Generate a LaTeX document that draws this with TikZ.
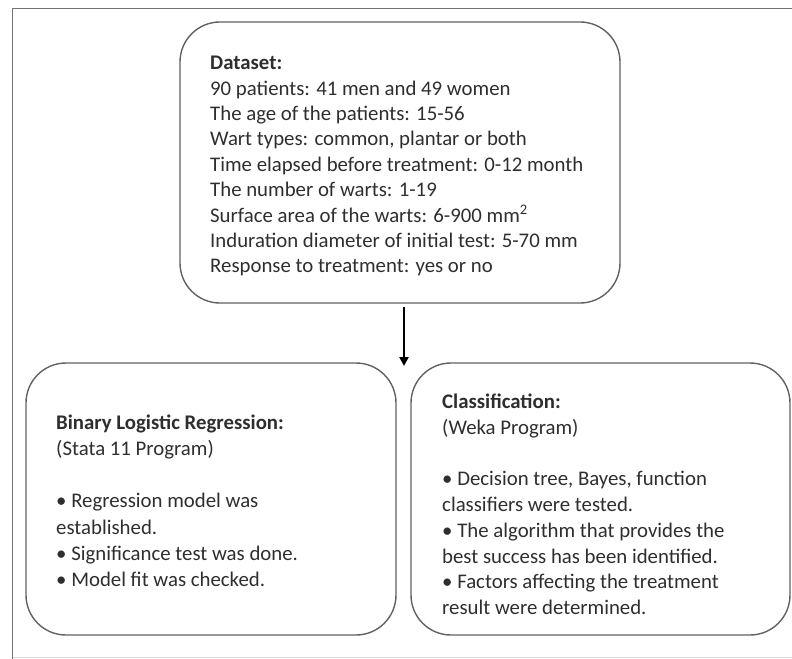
\documentclass[tikz,border=0pt]{standalone}
\usepackage{fontspec}
\setmainfont{Carlito}
\usetikzlibrary{arrows.meta}
\begin{document}
\begin{tikzpicture}[x=1bp,y=-1bp,
  box/.style={draw=black!62, line width=1.4bp, rounded corners=40bp, inner sep=0pt},
  txt/.style={anchor=north west, align=left, inner sep=0pt, text=black!82},
  frameline/.style={draw=black!55, line width=1.3bp}]
\useasboundingbox (0,0) rectangle (792,659);
% outer frame
\coordinate (f1) at (12.5,659);
\coordinate (f2) at (12.5,8.5);
\coordinate (f3) at (792,8.5);
\draw[frameline] (f1) -- (f2) -- (f3);
\coordinate (b1) at (12.5,657.5);
\coordinate (b2) at (792,657.5);
\draw[draw=black!15, line width=0.8bp] (b1) -- (b2);
% boxes
\node[box, minimum width=440bp, minimum height=281bp] (top) at (400,162.5) {};
\node[box, minimum width=370bp, minimum height=272bp] (left) at (211,499) {};
\node[box, minimum width=379bp, minimum height=272bp] (right) at (600.5,499) {};
% texts
\node[txt, font=\fontsize{20.8bp}{25.4bp}\selectfont] (toptxt) at (210,56) {\textbf{Dataset:}\\
90 patients: 41 men and 49 women\\
The age of the patients: 15-56\\
Wart types: common, plantar or both\\
Time elapsed before treatment: 0-12 month\\
The number of warts: 1-19\\
Surface area of the warts: 6-900 mm\textsuperscript{2}\\
Induration diameter of initial test: 5-70 mm\\
Response to treatment: yes or no};
\node[txt, font=\fontsize{20.8bp}{26.2bp}\selectfont] (lefttxt) at (56,414.5) {\textbf{Binary Logistic Regression:}\\
(Stata 11 Program)\\[26.2bp]
• Regression model was\\
established.\\
• Significance test was done.\\
• Model fit was checked.};
\node[txt, font=\fontsize{20.8bp}{25.8bp}\selectfont] (righttxt) at (442,393.5) {\textbf{Classification:}\\
(Weka Program)\\[25.8bp]
• Decision tree, Bayes, function\\
classifiers were tested.\\
• The algorithm that provides the\\
best success has been identified.\\
• Factors affecting the treatment\\
result were determined.};
% arrow
\coordinate (astart) at (404,307);
\coordinate (aend) at (404,366);
\draw[line width=2.4bp, -{Triangle[length=9bp,width=9bp]}] (astart) -- (aend);
\end{tikzpicture}
\end{document}
